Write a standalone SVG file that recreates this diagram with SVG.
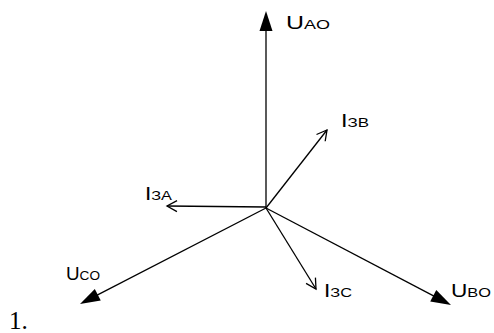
<svg xmlns="http://www.w3.org/2000/svg" width="494" height="333" viewBox="0 0 494 333">
<style>
.ln{stroke:#000;stroke-width:1.3;fill:none}
.lb{font-family:"Liberation Sans",Arial,sans-serif;font-size:18px;fill:#000}
.sm{font-size:13px}
.num{font-family:"Liberation Serif","Times New Roman",serif;font-size:25px;fill:#000}
</style>
<defs>
<marker id="fill" markerUnits="userSpaceOnUse" markerWidth="30" markerHeight="20" viewBox="-10 -10 30 20" refX="0" refY="0" orient="auto" overflow="visible">
<path d="M10,0 L-10,-6.5 L-10,6.5 Z" fill="#000"/>
</marker>
<marker id="open" markerUnits="userSpaceOnUse" markerWidth="20" markerHeight="20" viewBox="-15 -10 20 20" refX="0" refY="0" orient="auto" overflow="visible">
<path d="M-10,-5.5 L0,0 L-10,5.5" fill="none" stroke="#000" stroke-width="1.3"/>
</marker>
</defs>
<g id="connectors">
<line class="ln" x1="266" y1="208" x2="266" y2="21" marker-end="url(#fill)"/>
<line class="ln" x1="266" y1="208" x2="442.1" y2="300.4" marker-end="url(#fill)"/>
<line class="ln" x1="266" y1="208" x2="88.9" y2="299.4" marker-end="url(#fill)"/>
<line class="ln" x1="266" y1="208" x2="327" y2="130" marker-end="url(#open)"/>
<line class="ln" x1="266" y1="207" x2="167" y2="206" marker-end="url(#open)"/>
<line class="ln" x1="266" y1="208" x2="316" y2="289" marker-end="url(#open)"/>
</g>
<g id="uao"><text class="lb" x="286" y="29" textLength="44" lengthAdjust="spacingAndGlyphs">U<tspan class="sm">AO</tspan></text></g>
<g id="i3b"><text class="lb" x="341" y="127" textLength="28" lengthAdjust="spacingAndGlyphs">I<tspan class="sm">ЗB</tspan></text></g>
<g id="i3a"><text class="lb" x="145" y="200" textLength="27" lengthAdjust="spacingAndGlyphs">I<tspan class="sm">ЗA</tspan></text></g>
<g id="uco"><text class="lb" x="66" y="280" textLength="34" lengthAdjust="spacingAndGlyphs">U<tspan class="sm">CO</tspan></text></g>
<g id="i3c"><text class="lb" x="324" y="297" textLength="28" lengthAdjust="spacingAndGlyphs">I<tspan class="sm">ЗC</tspan></text></g>
<g id="ubo"><text class="lb" x="451" y="297" textLength="40" lengthAdjust="spacingAndGlyphs">U<tspan class="sm">BO</tspan></text></g>
<text class="num" x="9" y="329">1.</text>
</svg>
